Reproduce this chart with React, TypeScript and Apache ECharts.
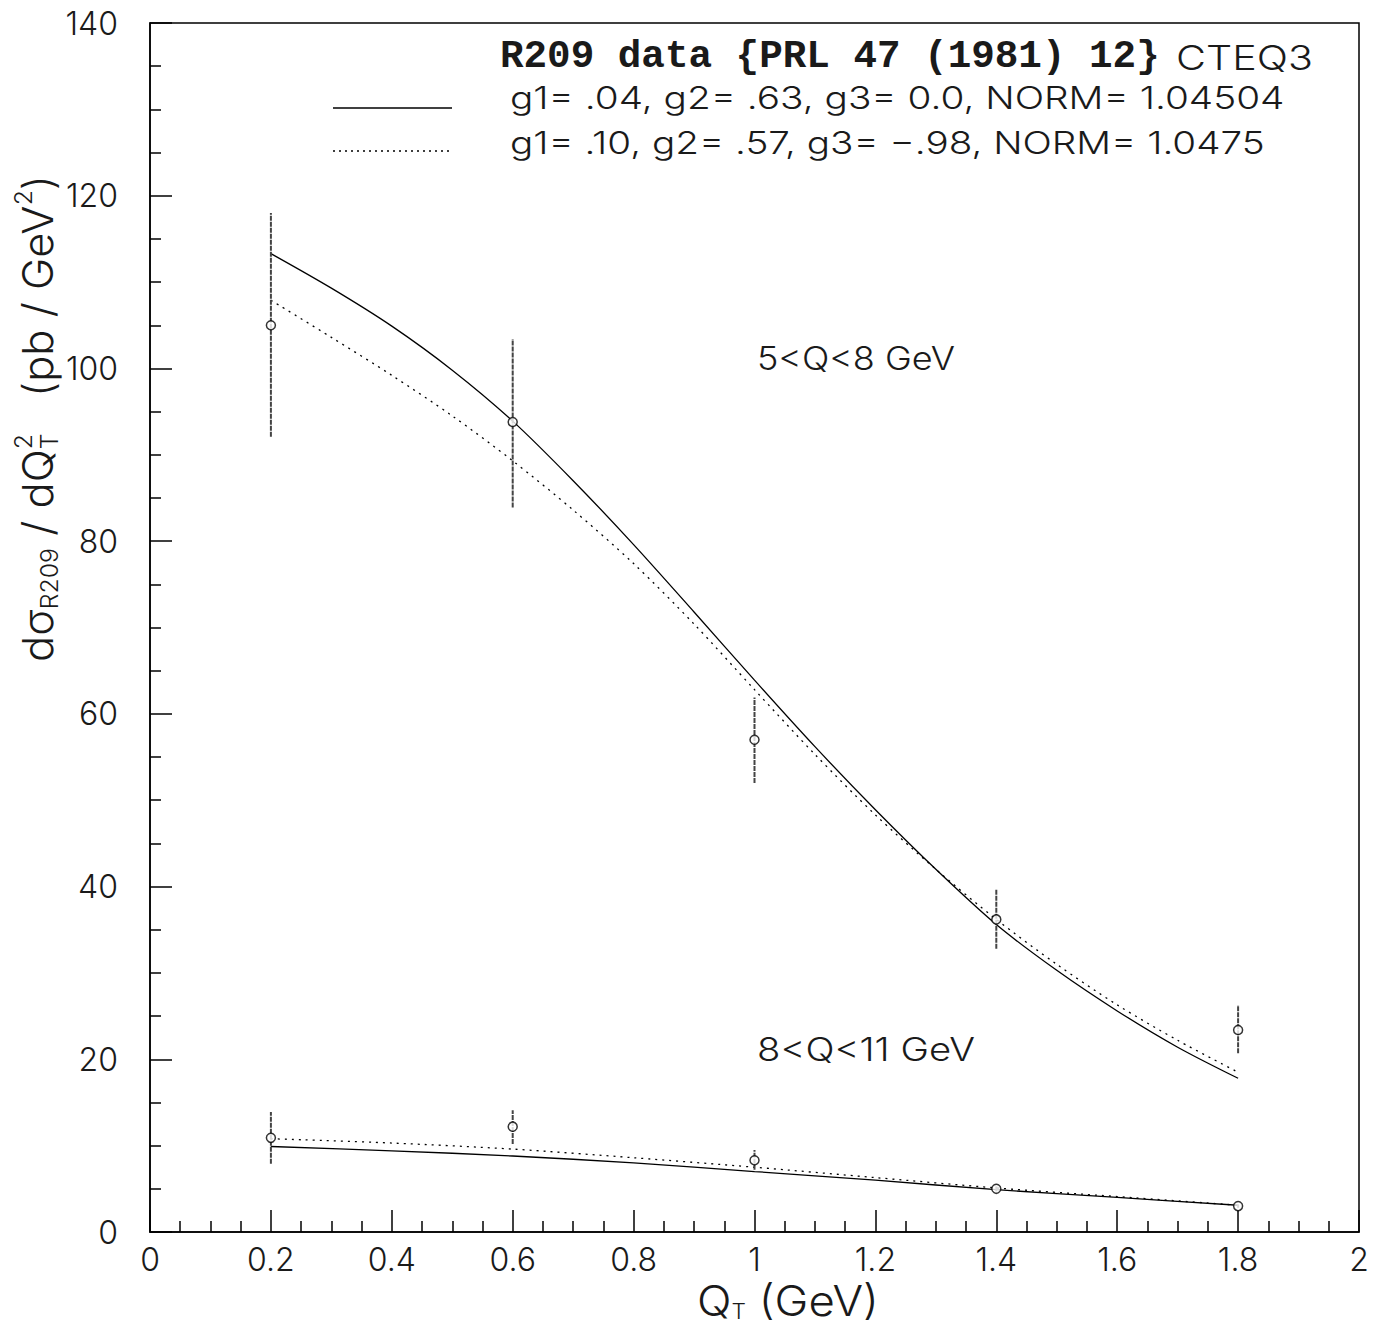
import React, { useEffect, useRef } from "react";
import * as echarts from "echarts";

// ---------- data ----------
const CURVE_X = [0.2, 0.3, 0.4, 0.5, 0.6, 0.7, 0.8, 0.9, 1.0, 1.1, 1.2, 1.3, 1.4, 1.5, 1.6, 1.7, 1.8];
const UPPER_SOLID = [113.3, 109.3, 104.9, 99.8, 93.9, 87.0, 79.6, 71.8, 63.9, 56.2, 48.9, 42.0, 35.6, 30.3, 25.6, 21.4, 17.8];
const UPPER_DOTTED = [107.9, 103.6, 99.2, 94.5, 89.3, 83.6, 77.4, 70.4, 62.8, 55.3, 48.3, 42.0, 36.2, 31.0, 26.3, 22.2, 18.5];

const LOWER_X = [0.2, 0.4, 0.6, 0.8, 1.0, 1.2, 1.4, 1.6, 1.8];
const LOWER_SOLID = [9.9, 9.4, 8.8, 8.0, 7.0, 6.0, 4.9, 4.0, 3.1];
const LOWER_DOTTED = [10.8, 10.3, 9.6, 8.6, 7.5, 6.3, 5.1, 4.1, 3.1];

const DATA_X = [0.2, 0.6, 1.0, 1.4, 1.8];
const UPPER_Y = [105.0, 93.8, 57.0, 36.2, 23.4];
const UPPER_LO = [92.1, 83.9, 52.0, 32.8, 20.7];
const UPPER_HI = [118.0, 103.4, 61.9, 39.7, 26.3];
const LOWER_Y = [10.9, 12.2, 8.3, 5.0, 3.0];
const LOWER_LO = [7.9, 10.2, 7.2, 4.7, 2.8];
const LOWER_HI = [13.9, 14.1, 9.5, 5.3, 3.2];

const TITLE = "R209 data {PRL 47 (1981) 12}";
const PDF_LABEL = "CTEQ3";
const LEGEND_SOLID = "g1= .04, g2= .63, g3= 0.0, NORM= 1.04504";
const LEGEND_DOTTED = "g1= .10, g2= .57, g3= \u2212.98, NORM= 1.0475";
const REGION_UPPER = "5<Q<8 GeV";
const REGION_LOWER = "8<Q<11 GeV";

// ---------- helpers ----------
const SANS = "Inter, 'Liberation Sans', Arial, sans-serif";
const SANS_W = "300";
const MONO = "'Liberation Mono', 'Courier New', monospace";
const INK = "#1a1a1a";

let ctx: CanvasRenderingContext2D | null = null;
function measure(text: string, size: number, weight: string, family: string) {
  if (!ctx) ctx = document.createElement("canvas").getContext("2d");
  if (!ctx) return text.length * size * 0.55;
  ctx.font = `${weight} ${size}px ${family}`;
  return ctx.measureText(text).width;
}

type Piece = { t: string; s: number; dy?: number; noAdvance?: boolean };

function composite(
  pieces: Piece[],
  o: { x: number; y: number; family: string; weight?: string; rotation?: number; width?: number }
) {
  const weight = o.weight || SANS_W;
  let cx = 0;
  const children: any[] = [];
  for (const p of pieces) {
    children.push({
      type: "text",
      x: cx,
      y: p.dy || 0,
      style: {
        text: p.t,
        fontSize: p.s,
        fontFamily: o.family,
        fontWeight: weight,
        fill: INK,
        align: "left",
        verticalAlign: "middle",
      },
    });
    if (!p.noAdvance) cx += measure(p.t, p.s, weight, o.family);
  }
  const scaleX = o.width ? o.width / cx : 1;
  return {
    type: "group",
    x: o.x,
    y: o.y,
    rotation: o.rotation || 0,
    scaleX,
    children,
  };
}

function pairs(xs: number[], ys: number[]) {
  return xs.map((x, i) => [x, ys[i]]);
}

function errorBars(lo: number[], hi: number[]) {
  return DATA_X.map((x, i) => [x, lo[i], hi[i]]);
}

const renderError = (params: any, api: any) => {
  const p1 = api.coord([api.value(0), api.value(1)]);
  const p2 = api.coord([api.value(0), api.value(2)]);
  return {
    type: "line",
    shape: { x1: p1[0], y1: p1[1], x2: p2[0], y2: p2[1] },
    style: { stroke: "#444", lineWidth: 2, lineDash: [5, 1] },
  };
};

export default function App() {
  const ref = useRef<HTMLDivElement>(null);

  useEffect(() => {
    document.body.style.margin = "0";
    if (!ref.current) return;
    const chart = echarts.init(ref.current, undefined, { renderer: "svg" });

    const axisCommon = {
      axisLine: { show: true, lineStyle: { color: "#000", width: 1.5 } },
      axisTick: { show: true, inside: true, length: 22, lineStyle: { color: "#000", width: 1.5 } },
      minorTick: { show: true, splitNumber: 4, length: 11, lineStyle: { color: "#000", width: 1.5 } },
      splitLine: { show: false },
      minorSplitLine: { show: false },
    };

    const labelCommon = {
      show: true,
      fontSize: 32,
      fontFamily: SANS,
      fontWeight: SANS_W,
      color: INK,
      showMinLabel: true,
      showMaxLabel: true,
    };

    const option: any = {
      animation: false,
      backgroundColor: "#fff",
      grid: {
        left: 150,
        top: 23,
        right: 17,
        bottom: 99,
        show: true,
        borderColor: "#000",
        borderWidth: 1.5,
        backgroundColor: "transparent",
      },
      xAxis: {
        type: "value",
        min: 0,
        max: 2,
        interval: 0.2,
        ...axisCommon,
        axisLabel: { ...labelCommon, margin: 11 },
      },
      yAxis: {
        type: "value",
        min: 0,
        max: 140,
        interval: 20,
        ...axisCommon,
        axisLabel: { ...labelCommon, margin: 32 },
      },
      series: [
        {
          type: "line",
          data: pairs(CURVE_X, UPPER_SOLID),
          smooth: 0.3,
          showSymbol: false,
          lineStyle: { color: "#000", width: 1.3, type: "solid" },
          z: 2,
        },
        {
          type: "line",
          data: pairs(CURVE_X, UPPER_DOTTED),
          smooth: 0.3,
          showSymbol: false,
          lineStyle: { color: "#000", width: 1.3, type: [2, 5] },
          z: 2,
        },
        {
          type: "line",
          data: pairs(LOWER_X, LOWER_SOLID),
          smooth: 0.3,
          showSymbol: false,
          lineStyle: { color: "#000", width: 1.3, type: "solid" },
          z: 2,
        },
        {
          type: "line",
          data: pairs(LOWER_X, LOWER_DOTTED),
          smooth: 0.3,
          showSymbol: false,
          lineStyle: { color: "#000", width: 1.3, type: [2, 5] },
          z: 2,
        },
        {
          type: "custom",
          renderItem: renderError,
          data: errorBars(UPPER_LO, UPPER_HI),
          encode: { x: 0, y: [1, 2] },
          z: 3,
        },
        {
          type: "custom",
          renderItem: renderError,
          data: errorBars(LOWER_LO, LOWER_HI),
          encode: { x: 0, y: [1, 2] },
          z: 3,
        },
        {
          type: "scatter",
          data: pairs(DATA_X, UPPER_Y),
          symbol: "circle",
          symbolSize: 9,
          itemStyle: { color: "#fff", borderColor: "#000", borderWidth: 1.5 },
          z: 4,
        },
        {
          type: "scatter",
          data: pairs(DATA_X, LOWER_Y),
          symbol: "circle",
          symbolSize: 9,
          itemStyle: { color: "#fff", borderColor: "#000", borderWidth: 1.5 },
          z: 4,
        },
      ],
      graphic: [
        composite([{ t: TITLE, s: 39 }], { x: 500, y: 57, family: MONO, weight: "bold", width: 660 }),
        composite([{ t: PDF_LABEL, s: 34 }], { x: 1176, y: 57, family: SANS, width: 137 }),
        {
          type: "line",
          shape: { x1: 333, y1: 108, x2: 452, y2: 108 },
          style: { stroke: "#000", lineWidth: 1.3 },
        },
        {
          type: "line",
          shape: { x1: 333, y1: 151, x2: 452, y2: 151 },
          style: { stroke: "#000", lineWidth: 1.3, lineDash: [2, 4] },
        },
        composite([{ t: LEGEND_SOLID, s: 31 }], { x: 510, y: 98, family: SANS, width: 775 }),
        composite([{ t: LEGEND_DOTTED, s: 31 }], { x: 510, y: 142, family: SANS, width: 755 }),
        composite([{ t: REGION_UPPER, s: 32 }], { x: 757, y: 358, family: SANS, width: 198 }),
        composite([{ t: REGION_LOWER, s: 32 }], { x: 757, y: 1050, family: SANS, width: 218 }),
        // x axis title
        composite(
          [
            { t: "Q", s: 42 },
            { t: "T", s: 21, dy: 10 },
            { t: " (GeV)", s: 42 },
          ],
          { x: 697, y: 1301, family: SANS, width: 182 }
        ),
        // y axis title (rotated)
        composite(
          [
            { t: "d\u03c3", s: 42 },
            { t: "R209", s: 24, dy: 11 },
            { t: " / dQ", s: 42 },
            { t: "2", s: 24, dy: -15, noAdvance: true },
            { t: "T", s: 24, dy: 11 },
            { t: "   (pb / GeV", s: 42 },
            { t: "2", s: 24, dy: -15 },
            { t: ")", s: 42 },
          ],
          { x: 38, y: 662, family: SANS, rotation: Math.PI / 2, width: 487 }
        ),
      ],
    };

    chart.setOption(option);
    return () => {
      chart.dispose();
    };
  }, []);

  return <div ref={ref} style={{ width: 1376, height: 1331 }} />;
}
